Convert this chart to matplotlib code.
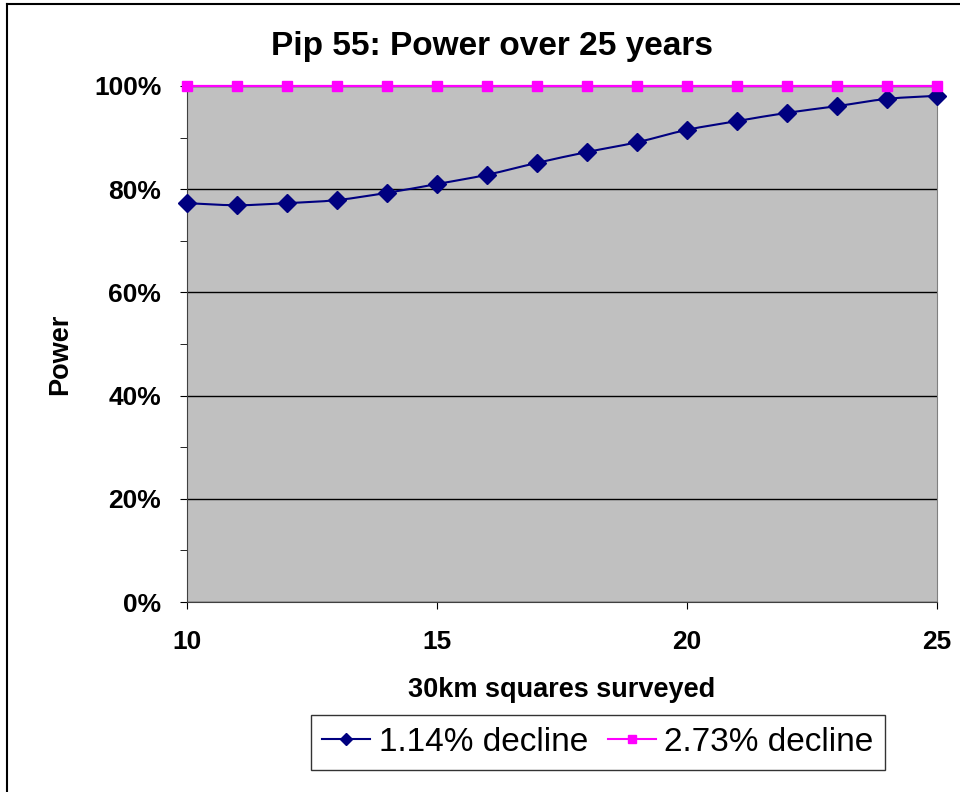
import matplotlib
matplotlib.use("Agg")
import matplotlib.pyplot as plt
from matplotlib.path import Path
from matplotlib.patches import PathPatch
from matplotlib.lines import Line2D
from matplotlib.ticker import MultipleLocator, FuncFormatter

plt.rcParams['font.family'] = ['Liberation Sans', 'DejaVu Sans']

squares = [10, 11, 12, 13, 14, 15, 16, 17, 18, 19, 20, 21, 22, 23, 24, 25]
power_114 = [0.773, 0.769, 0.773, 0.779, 0.793, 0.810, 0.828, 0.851, 0.872,
             0.891, 0.915, 0.932, 0.948, 0.961, 0.975, 0.981]
power_273 = [1.0] * 16
labels = ["1.14% decline", "2.73% decline"]

navy = "#000080"
magenta = "#FF00FF"


def smooth_path(xs, ys, t=1 / 6):
    # Excel-style smoothed line: Catmull-Rom segments as cubic beziers
    verts = [(xs[0], ys[0])]
    codes = [Path.MOVETO]
    n = len(xs)
    for i in range(n - 1):
        x0, y0 = xs[max(i - 1, 0)], ys[max(i - 1, 0)]
        x1, y1 = xs[i], ys[i]
        x2, y2 = xs[i + 1], ys[i + 1]
        x3, y3 = xs[min(i + 2, n - 1)], ys[min(i + 2, n - 1)]
        verts += [(x1 + (x2 - x0) * t, y1 + (y2 - y0) * t),
                  (x2 - (x3 - x1) * t, y2 - (y3 - y1) * t),
                  (x2, y2)]
        codes += [Path.CURVE4] * 3
    return Path(verts, codes)


fig = plt.figure(figsize=(9.6, 7.92), dpi=100)
ax = fig.add_axes([187 / 960, 1 - 602 / 792, 750 / 960, 516 / 792])
ax.set_facecolor("#C0C0C0")

ax.add_patch(PathPatch(smooth_path(squares, power_114), fill=False,
                       edgecolor=navy, lw=1.5, zorder=3, clip_on=False))
ax.plot(squares, power_114, ls="none", marker="D", ms=9, color=navy,
        zorder=4, clip_on=False)
ax.plot(squares, power_273, color=magenta, lw=1.6, marker="s", ms=7.5,
        zorder=5, clip_on=False)

ax.set_xlim(10, 25)
ax.set_ylim(0, 1)
ax.xaxis.set_major_locator(MultipleLocator(5))
ax.yaxis.set_major_locator(MultipleLocator(0.2))
ax.yaxis.set_minor_locator(MultipleLocator(0.1))
ax.yaxis.set_major_formatter(FuncFormatter(lambda v, p: f"{v * 100:.0f}%"))
ax.grid(axis="y", which="major", color="black", lw=1)
ax.set_axisbelow(True)

ax.spines["top"].set_visible(False)
ax.spines["right"].set_color("#808080")
ax.spines["left"].set_color("#404040")
ax.spines["bottom"].set_color("#404040")
ax.tick_params(axis="both", which="both", direction="out", color="black",
               length=5)
ax.tick_params(axis="y", which="major", pad=13.5)
ax.tick_params(axis="x", pad=15)
for lbl in ax.get_xticklabels() + ax.get_yticklabels():
    lbl.set_fontsize(19)
    lbl.set_fontweight("bold")

fig.text(492 / 960, 1 - 47 / 792, "Pip 55: Power over 25 years",
         ha="center", va="center", fontsize=24, fontweight="bold")
fig.text(562 / 960, 1 - 690 / 792, "30km squares surveyed",
         ha="center", va="center", fontsize=19.5, fontweight="bold")
fig.text(60 / 960, 1 - 354 / 792, "Power", rotation=90,
         ha="center", va="center", fontsize=19.5, fontweight="bold")

h1 = Line2D([], [], color=navy, lw=1.5, marker="D", ms=6.5)
h2 = Line2D([], [], color=magenta, lw=1.5, marker="s", ms=6)
leg = fig.legend([h1, h2], labels, loc="center",
                 bbox_to_anchor=(598 / 960, 1 - 742.5 / 792), ncol=2,
                 fontsize=24, frameon=True, fancybox=False, edgecolor="black",
                 handlelength=1.44, handletextpad=0.27, columnspacing=0.57,
                 borderpad=0.35, borderaxespad=0)
leg.get_frame().set_linewidth(1)

# outer chart border (left and top visible)
fig.add_artist(Line2D([7 / 960, 7 / 960], [0, 1 - 4 / 792], color="black",
                      lw=1.5, transform=fig.transFigure))
fig.add_artist(Line2D([7 / 960, 1], [1 - 4 / 792, 1 - 4 / 792], color="black",
                      lw=1.5, transform=fig.transFigure))

fig.savefig("out.png", dpi=100)
